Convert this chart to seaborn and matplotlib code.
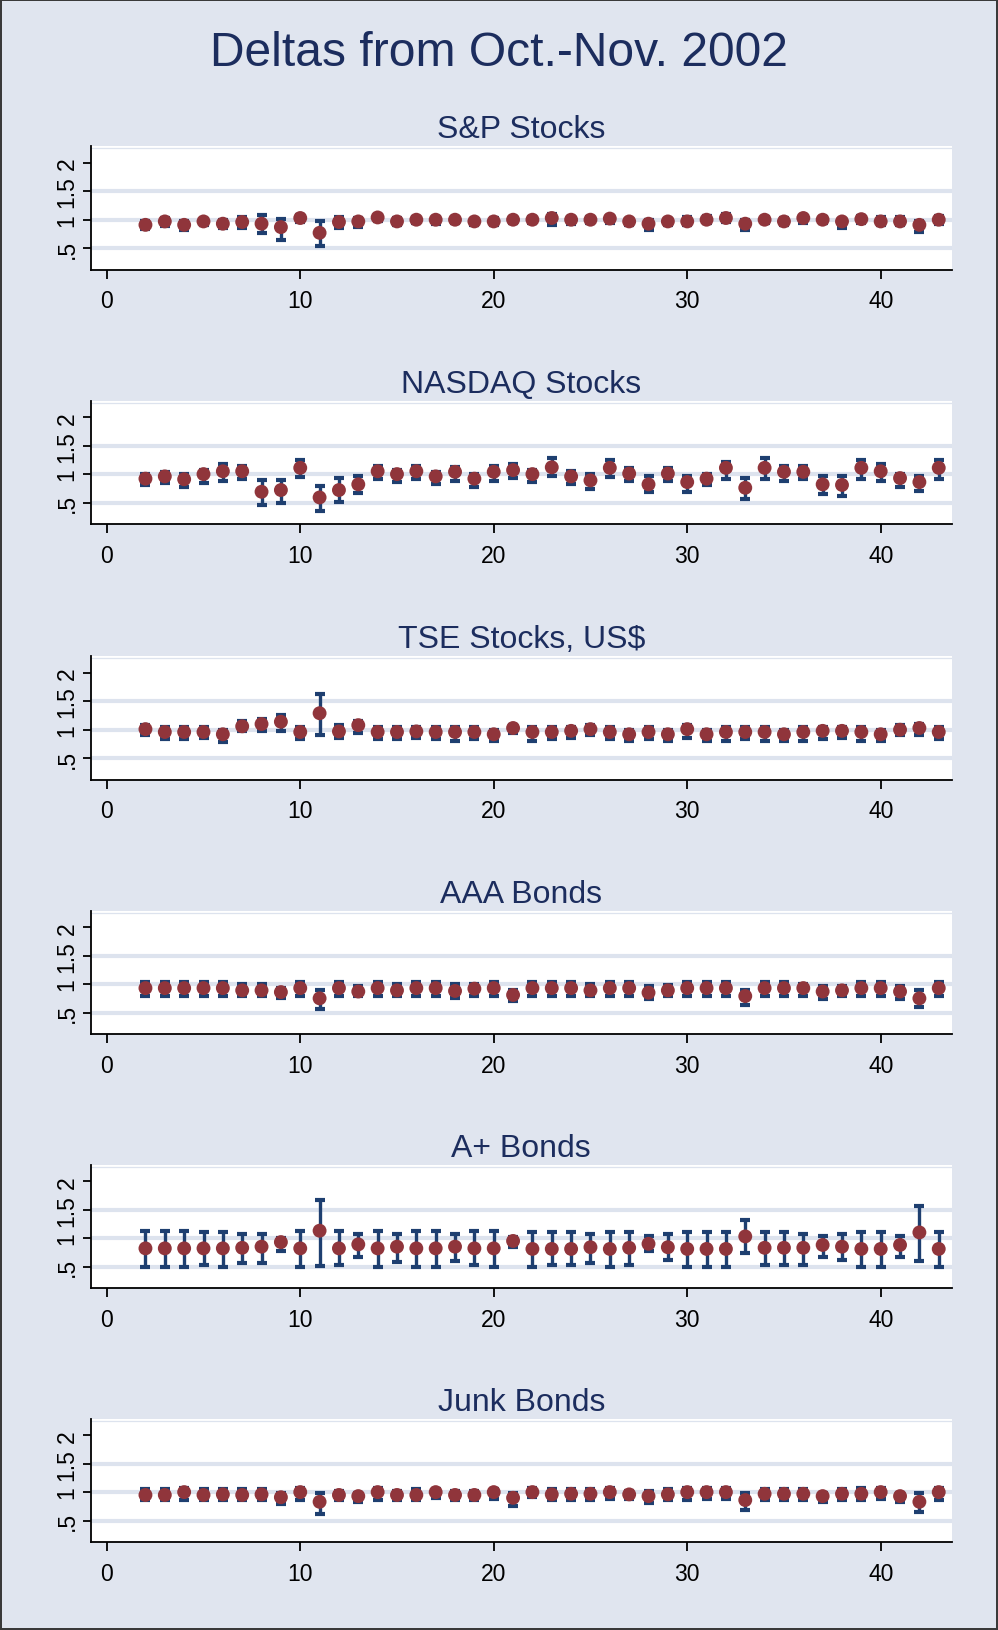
import numpy as np
import pandas as pd
import matplotlib
matplotlib.use("Agg")
import matplotlib.pyplot as plt
import seaborn as sns

sns.set_theme(style="white")
plt.rcParams['font.family'] = ['Liberation Sans', 'DejaVu Sans']

# ---------------- data ----------------
days = list(range(2, 44))
main_title = "Deltas from Oct.-Nov. 2002"
panel_titles = ["S&P Stocks", "NASDAQ Stocks", "TSE Stocks, US$",
                "AAA Bonds", "A+ Bonds", "Junk Bonds"]
x_ticks = [0, 10, 20, 30, 40]
y_ticks = [0.5, 1, 1.5, 2]
y_ticklabels = [".5", "1", "1.5", "2"]

sp_est = [.91, .97, .91, .97, .93, .96, .93, .87, 1.03, .77, .96, .97, 1.04, .97, 1.0, 1.0, 1.0, .97, .97, 1.0,
          1.0, 1.03, 1.0, 1.0, 1.02, .97, .93, .97, .97, 1.0, 1.03, .93, 1.0, .97, 1.03, 1.0, .97, 1.01, .97, .97, .91, 1.0]
sp_lo = [.83, .89, .82, .90, .86, .86, .77, .65, .96, .53, .86, .88, .97, .90, .95, .92, .94, .90, .90, .95,
         .94, .91, .92, .94, .94, .91, .82, .91, .90, .94, .96, .82, .95, .90, .94, .95, .85, .95, .91, .91, .78, .93]
sp_hi = [.98, 1.03, .98, 1.02, 1.0, 1.05, 1.08, 1.01, 1.08, .97, 1.04, 1.03, 1.09, 1.03, 1.05, 1.05, 1.04, 1.02, 1.03, 1.05,
         1.05, 1.1, 1.05, 1.05, 1.07, 1.0, .99, 1.02, 1.04, 1.07, 1.1, 1.0, 1.04, 1.03, 1.07, 1.04, 1.0, 1.07, 1.04, 1.04, .98, 1.07]

nq_est = [.92, .96, .91, 1.0, 1.05, 1.05, .69, .72, 1.11, .59, .72, .82, 1.05, 1.0, 1.05, .96, 1.04, .92, 1.04, 1.07,
          1.0, 1.12, .96, .89, 1.11, 1.01, .82, 1.01, .86, .92, 1.11, .76, 1.11, 1.04, 1.04, .82, .81, 1.11, 1.05, .93, .86, 1.11]
nq_lo = [.81, .85, .78, .85, .88, .92, .46, .49, .95, .35, .51, .67, .92, .86, .92, .82, .88, .78, .88, .93,
         .86, .96, .82, .74, .95, .88, .68, .88, .68, .81, .92, .56, .92, .88, .92, .65, .61, .92, .88, .78, .71, .92]
nq_hi = [1.01, 1.04, 1.0, 1.07, 1.18, 1.15, .89, .89, 1.25, .79, .93, .96, 1.14, 1.07, 1.14, 1.04, 1.12, 1.0, 1.14, 1.18,
         1.08, 1.28, 1.05, 1.0, 1.25, 1.11, .96, 1.11, .96, 1.0, 1.21, .93, 1.28, 1.14, 1.14, .96, .96, 1.25, 1.18, 1.0, .96, 1.25]

tse_est = [1.01, .96, .96, .96, .92, 1.06, 1.10, 1.14, .96, 1.29, .97, 1.08, .96, .96, .97, .96, .96, .96, .92, 1.03,
           .96, .96, .98, 1.01, .96, .92, .96, .92, 1.01, .92, .96, .96, .96, .92, .96, .98, .98, .96, .92, 1.0, 1.03, .96]
tse_lo = [.91, .84, .84, .86, .79, .97, .97, .97, .84, .91, .86, .95, .84, .84, .86, .84, .80, .84, .80, .94,
          .80, .84, .86, .90, .84, .80, .84, .80, .86, .80, .80, .84, .80, .80, .80, .84, .86, .80, .80, .90, .90, .84]
tse_hi = [1.08, 1.04, 1.04, 1.04, 1.0, 1.16, 1.19, 1.26, 1.04, 1.62, 1.08, 1.16, 1.04, 1.04, 1.04, 1.04, 1.05, 1.04, 1.0, 1.08,
          1.04, 1.04, 1.04, 1.08, 1.04, 1.0, 1.04, 1.0, 1.08, 1.0, 1.04, 1.04, 1.04, 1.0, 1.04, 1.04, 1.04, 1.04, 1.0, 1.08, 1.10, 1.04]

aaa_est = [.93, .93, .93, .93, .93, .89, .89, .86, .93, .75, .93, .87, .93, .89, .93, .93, .88, .92, .93, .81,
           .93, .93, .93, .89, .93, .93, .85, .89, .93, .93, .93, .79, .93, .93, .93, .87, .89, .93, .93, .87, .75, .93]
aaa_lo = [.79, .79, .79, .79, .79, .79, .79, .75, .79, .56, .79, .79, .79, .79, .79, .79, .75, .79, .79, .71,
          .79, .79, .79, .79, .79, .79, .73, .79, .79, .79, .79, .64, .79, .79, .79, .73, .79, .79, .79, .73, .60, .79]
aaa_hi = [1.04, 1.04, 1.04, 1.04, 1.04, 1.0, 1.0, .94, 1.04, .89, 1.04, .96, 1.04, 1.0, 1.04, 1.04, 1.0, 1.0, 1.04, .89,
          1.04, 1.04, 1.04, 1.0, 1.04, 1.04, .96, .98, 1.04, 1.04, 1.04, .89, 1.04, 1.04, 1.0, .96, .96, 1.04, 1.04, .96, .89, 1.04]

ap_est = [.82, .82, .82, .82, .82, .83, .85, .93, .82, 1.13, .82, .89, .82, .85, .82, .82, .85, .82, .82, .95,
          .81, .81, .81, .84, .81, .83, .90, .84, .81, .81, .81, 1.03, .83, .83, .83, .88, .85, .81, .81, .88, 1.10, .81]
ap_lo = [.49, .49, .49, .52, .49, .56, .56, .78, .49, .51, .52, .66, .49, .58, .49, .49, .60, .52, .49, .84,
         .49, .52, .52, .57, .49, .52, .78, .62, .49, .49, .49, .74, .52, .52, .52, .66, .62, .49, .49, .66, .60, .49]
ap_hi = [1.12, 1.12, 1.12, 1.10, 1.10, 1.08, 1.08, 1.01, 1.12, 1.67, 1.12, 1.08, 1.12, 1.08, 1.12, 1.12, 1.08, 1.12, 1.12, 1.02,
         1.11, 1.11, 1.11, 1.08, 1.11, 1.11, 1.03, 1.08, 1.11, 1.11, 1.11, 1.31, 1.11, 1.11, 1.08, 1.04, 1.08, 1.11, 1.11, 1.04, 1.56, 1.11]

jk_est = [.95, .95, 1.0, .95, .96, .95, .96, .91, 1.0, .83, .95, .93, 1.0, .95, .95, 1.0, .95, .95, 1.0, .90,
          1.0, .96, .97, .97, 1.0, .96, .93, .96, 1.0, 1.0, 1.0, .86, .97, .97, .97, .93, .97, .97, 1.0, .93, .83, 1.0]
jk_lo = [.86, .86, .86, .86, .86, .86, .86, .79, .86, .62, .86, .83, .86, .86, .86, .90, .86, .86, .88, .76,
         .91, .86, .86, .86, .88, .88, .80, .86, .86, .88, .88, .69, .86, .86, .86, .83, .86, .86, .88, .83, .65, .86]
jk_hi = [1.05, 1.05, 1.07, 1.05, 1.06, 1.05, 1.05, .99, 1.07, .99, 1.02, .99, 1.07, 1.02, 1.05, 1.06, 1.02, 1.02, 1.05, .99,
         1.07, 1.05, 1.05, 1.05, 1.07, 1.02, 1.02, 1.05, 1.07, 1.07, 1.07, .99, 1.05, 1.05, 1.05, .99, 1.05, 1.07, 1.07, .99, .99, 1.07]

series = [(sp_est, sp_lo, sp_hi), (nq_est, nq_lo, nq_hi), (tse_est, tse_lo, tse_hi),
          (aaa_est, aaa_lo, aaa_hi), (ap_est, ap_lo, ap_hi), (jk_est, jk_lo, jk_hi)]

# ---------------- style ----------------
BG = "#e0e5ef"
GRID = "#dde3ee"
NAVY = "#1e3f70"
MAROON = "#90353b"
TITLE_C = "#1c2d5e"

W, H = 998, 1631
fig = plt.figure(figsize=(W / 100, H / 100), dpi=100, facecolor=BG)
fig.patch.set_edgecolor("#3a3a3a")
fig.patch.set_linewidth(1.5)

fig.text(0.5, 1 - 66 / H, main_title, ha="center", va="baseline",
         fontsize=34.6, color=TITLE_C)

tops = [147.3, 401.7, 657.3, 911.7, 1165.7, 1419.7]
ph = 123.5
left, right = 90.7, 951.7

for i, (title, (est, lo, hi)) in enumerate(zip(panel_titles, series)):
    top = tops[i]
    ax = fig.add_axes([left / W, 1 - (top + ph) / H, (right - left) / W, ph / H])
    ax.set_facecolor("white")
    df = pd.DataFrame({"day": days, "est": est, "lo": lo, "hi": hi})
    for g in y_ticks[:-1]:
        ax.axhline(g, color=GRID, lw=3.0, zorder=0)
    ax.plot([0, 1], [0.985, 0.985], transform=ax.transAxes, color=GRID, lw=0.9, zorder=0)
    ax.errorbar(df["day"], df["est"],
                yerr=[df["est"] - df["lo"], df["hi"] - df["est"]],
                fmt="none", ecolor=NAVY, elinewidth=2.4, capsize=3.4, capthick=3.0, zorder=2)
    sns.scatterplot(data=df, x="day", y="est", ax=ax, color=MAROON, s=100,
                    edgecolor="none", linewidth=0, zorder=3, legend=False)
    ax.set_xlim(-0.83, 43.67)
    ax.set_ylim(0.12, 2.29)
    ax.set_xticks(x_ticks)
    ax.set_xticklabels([str(t) for t in x_ticks])
    ax.set_yticks(y_ticks)
    ax.set_yticklabels(y_ticklabels, rotation=90, va="center")
    ax.set_xlabel("")
    ax.set_ylabel("")
    for s in ["top", "right"]:
        ax.spines[s].set_visible(False)
    for s in ["left", "bottom"]:
        ax.spines[s].set_color("black")
        ax.spines[s].set_linewidth(1.3)
    ax.tick_params(axis="x", direction="out", length=6.5, width=1.3, color="black",
                   labelsize=16.5, pad=7.5, labelcolor="black", bottom=True)
    ax.tick_params(axis="y", direction="out", length=5.8, width=1.3, color="black",
                   labelsize=16.5, pad=3, labelcolor="black", left=True)
    ax.set_title(title, fontsize=23, color=TITLE_C, pad=6.5)

fig.savefig("out.png", dpi=100, facecolor=BG, edgecolor=fig.patch.get_edgecolor())
